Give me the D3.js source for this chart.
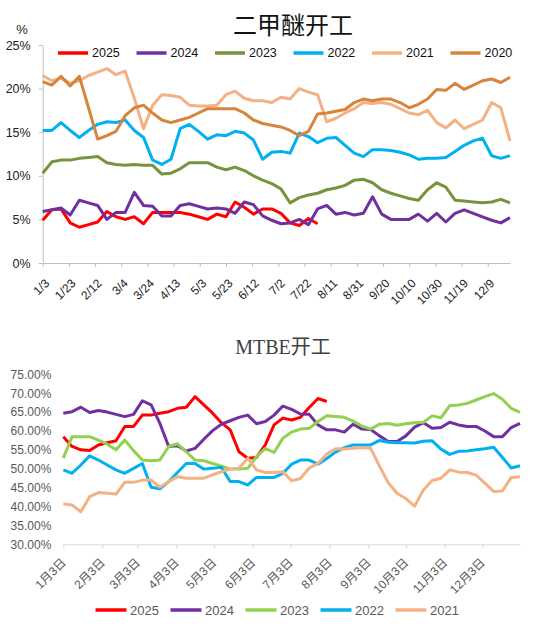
<!DOCTYPE html>
<html>
<head>
<meta charset="utf-8">
<script src="https://cdn.jsdelivr.net/npm/d3@7"></script>
<style>
  body { margin: 0; background: #fff; }
  svg { display: block; }
</style>
</head>
<body>
<svg id="chart" width="550" height="632"></svg>
<script>
// ---- data: 二甲醚开工 (%), weekly from 1/3 ----
var dmeYears = ["2025", "2024", "2023", "2022", "2021", "2020"];
var dmeTicks = ["1/3","1/23","2/12","3/4","3/24","4/13","5/3","5/23","6/12","7/2","7/22","8/11","8/31","9/20","10/10","10/30","11/19","12/9"];
var dmeYTicks = [0, 5, 10, 15, 20, 25];

var dme2025 = [4.9,6.1,6.2,4.6,4.1,4.4,4.7,5.9,5.3,5.0,5.3,4.5,5.8,5.8,5.8,5.8,5.6,5.3,5.0,5.6,5.3,7.0,6.4,5.6,6.2,6.2,5.7,4.6,4.3,5.1,4.5];
var dme2024 = [5.9,6.1,6.3,5.5,7.2,6.9,6.6,5.0,5.8,5.8,8.1,6.6,6.5,5.4,5.4,6.6,6.8,6.5,6.2,6.3,6.2,5.7,7.0,6.7,5.4,4.9,4.5,4.6,5.0,4.4,6.2,6.6,5.6,5.8,5.5,5.7,7.6,5.6,5.0,5.0,5.0,5.6,4.8,5.7,4.7,5.7,6.1,5.7,5.3,4.9,4.6,5.2];
var dme2023 = [10.3,11.6,11.8,11.8,12.0,12.1,12.2,11.5,11.3,11.2,11.3,11.2,11.2,10.2,10.3,10.8,11.5,11.5,11.5,11.0,10.7,11.0,10.6,10.0,9.5,9.1,8.5,6.9,7.5,7.8,8.0,8.4,8.6,8.9,9.5,9.6,9.2,8.4,8.0,7.7,7.4,7.2,8.4,9.2,8.7,7.2,7.1,7.0,6.9,7.0,7.3,6.9];
var dme2022 = [15.2,15.2,16.1,15.2,14.4,15.2,15.9,16.2,16.1,16.4,15.2,14.4,11.8,11.3,11.9,15.4,15.9,15.1,14.2,14.7,14.6,15.1,14.9,14.1,11.9,12.7,12.8,12.6,14.9,14.5,13.8,14.3,14.4,13.5,12.6,12.2,13.0,13.0,12.9,12.7,12.4,11.9,12.0,12.0,12.1,12.8,13.5,14.0,14.3,12.3,12.0,12.3];
var dme2021 = [21.5,20.9,21.2,20.6,20.9,21.5,21.9,22.3,21.6,22.0,18.9,15.4,18.1,19.3,19.2,19.0,18.1,18.0,18.0,18.1,19.3,19.7,18.9,18.6,18.6,18.4,19.0,18.8,20.0,19.6,19.3,16.2,16.6,17.2,17.7,18.4,18.3,18.4,18.2,17.7,17.2,17.0,17.5,16.1,15.5,16.4,15.4,15.9,16.4,18.4,17.8,14.0];
var dme2020 = [20.8,20.4,21.4,20.3,21.4,17.8,14.2,14.6,15.1,16.9,17.8,18.1,17.2,16.4,16.1,16.4,16.7,17.2,17.7,17.7,17.7,17.7,17.2,16.4,16.0,15.8,15.6,15.2,14.6,15.1,17.1,17.2,17.4,17.6,18.4,18.8,18.6,18.8,18.8,18.4,17.8,18.2,18.8,19.9,19.8,20.6,19.9,20.4,20.9,21.1,20.7,21.3];

// ---- data: MTBE开工 (%), weekly from 1月3日 ----
var mtbeYears = ["2025", "2024", "2023", "2022", "2021"];
var mtbeTicks = ["1月3日","2月3日","3月3日","4月3日","5月3日","6月3日","7月3日","8月3日","9月3日","10月3日","11月3日","12月3日"];
var mtbeYTicks = [30, 35, 40, 45, 50, 55, 60, 65, 70, 75];

var mtbe2025 = [58.5,55.9,55.0,54.8,56.3,56.9,57.4,61.2,61.2,64.2,64.2,64.7,65.1,66.0,66.3,69.1,66.9,64.7,62.2,60.3,54.5,52.8,53.0,56.3,61.6,63.4,62.9,63.6,66.2,68.6,67.8];
var mtbe2024 = [64.7,65.1,66.3,64.9,65.4,65.0,64.4,63.8,64.4,68.0,66.9,62.0,55.9,56.1,54.7,55.4,57.8,60.1,61.8,62.7,63.6,64.2,61.9,62.5,64.2,66.6,65.7,64.5,64.4,61.6,60.3,60.3,59.7,61.8,60.5,60.4,58.7,57.2,57.2,58.7,61.0,62.2,60.7,60.9,62.3,61.6,61.2,61.2,60.0,58.5,58.5,60.9,62.0];
var mtbe2023 = [52.8,58.5,58.5,58.5,57.6,56.5,55.0,57.6,54.8,52.3,52.1,52.3,55.9,56.6,54.5,52.3,52.1,51.4,50.7,49.9,49.9,50.1,53.2,55.4,54.3,58.1,59.7,60.5,60.7,62.5,64.0,63.8,63.6,62.6,61.3,60.5,61.8,62.0,61.5,61.9,62.2,62.3,64.0,63.5,66.7,66.9,67.3,68.2,69.1,69.9,68.4,66.0,64.9];
var mtbe2022 = [49.7,48.8,51.0,53.4,52.3,51.0,49.7,48.8,50.1,51.4,45.1,44.7,46.6,49.0,51.4,51.4,49.9,50.1,50.4,46.6,46.6,45.7,47.7,47.7,47.7,48.8,51.2,52.3,52.3,51.2,52.7,54.4,55.6,56.3,56.3,56.3,57.5,57.0,56.9,56.9,56.8,57.3,57.4,55.2,53.8,54.6,54.7,55.0,55.3,55.7,53.0,50.2,50.8];
var mtbe2021 = [40.7,40.4,38.6,42.6,43.7,43.5,43.3,46.4,46.4,47.0,47.0,45.1,46.6,47.9,47.5,47.5,47.5,48.4,49.2,49.9,50.1,52.8,49.7,49.0,49.0,49.2,46.8,47.4,50.2,51.4,53.9,55.3,55.2,55.4,55.6,55.4,50.7,46.3,43.5,42.1,40.1,44.4,46.9,47.5,49.7,49.1,49.0,48.3,46.2,44.0,44.1,47.7,47.9];

var dmeSeries = [dme2025, dme2024, dme2023, dme2022, dme2021, dme2020];
var mtbeSeries = [mtbe2025, mtbe2024, mtbe2023, mtbe2022, mtbe2021];

// styles
var dmeColors = ["#FF0000", "#7030A0", "#77933C", "#00B0F0", "#F4B183", "#D7843C"];
var mtbeColors = ["#FF0000", "#7030A0", "#92D050", "#00B0F0", "#F4B183"];
var latin = "'Liberation Sans', Arial, 'Noto Sans CJK SC', sans-serif";

var svg = d3.select("#chart");
var day0 = new Date(2021, 0, 3);
function weeks(n) { return d3.range(n).map(function (i) { return d3.timeDay.offset(day0, 7 * i); }); }

/* ================= 二甲醚开工 ================= */
var dmeDates = weeks(52);
var x1 = d3.scaleTime().domain([day0, dmeDates[51]]).range([42.7, 510]);
var y1 = d3.scaleLinear().domain([0, 25]).range([263, 45]);

svg.append("text").attr("x", 293).attr("y", 34)
    .attr("text-anchor", "middle")
    .style("font-family", "'Noto Sans CJK SC', sans-serif")
    .style("font-size", "24px").style("fill", "#111")
    .text("二甲醚开工");

svg.append("text").attr("x", 22).attr("y", 34)
    .attr("text-anchor", "middle")
    .style("font-family", latin).style("font-size", "13px").style("fill", "#222")
    .text("%");

var gy1 = svg.append("g").attr("transform", "translate(42.7,0)")
    .call(d3.axisLeft(y1).tickValues(dmeYTicks).tickSize(4).tickSizeOuter(0).tickPadding(8)
        .tickFormat(function (d) { return d + "%"; }));
gy1.select(".domain").attr("stroke", "#BFBFBF");
gy1.selectAll(".tick line").attr("stroke", "#BFBFBF");
gy1.selectAll("text").style("font-family", latin).style("font-size", "12.5px").style("fill", "#222");

var dmeTickDates = dmeTicks.map(function (t, i) { return d3.timeDay.offset(day0, 20 * i); });
var gx1 = svg.append("g").attr("transform", "translate(0," + y1(0) + ")")
    .call(d3.axisBottom(x1).tickValues(dmeTickDates).tickSize(4).tickSizeOuter(0)
        .tickFormat(function (d, i) { return dmeTicks[i]; }));
gx1.select(".domain").attr("stroke", "#BFBFBF");
gx1.selectAll(".tick line").attr("stroke", "#BFBFBF");
gx1.selectAll("text")
    .attr("x", 0).attr("y", 0).attr("dy", "0.35em")
    .attr("text-anchor", "end")
    .attr("transform", "translate(4,18) rotate(-45)")
    .style("font-family", latin).style("font-size", "12px").style("fill", "#222");

var line1 = d3.line()
    .x(function (d, i) { return x1(dmeDates[i]); })
    .y(function (d) { return y1(d); });

dmeSeries.forEach(function (s, k) {
    svg.append("path").datum(s)
        .attr("d", line1)
        .attr("fill", "none")
        .attr("stroke", dmeColors[k])
        .attr("stroke-width", 3)
        .attr("stroke-linejoin", "round");
});

// legend
var lg1 = svg.append("g");
dmeYears.forEach(function (yr, k) {
    var lx = 58 + k * 78.5;
    lg1.append("line").attr("x1", lx).attr("x2", lx + 30).attr("y1", 53).attr("y2", 53)
        .attr("stroke", dmeColors[k]).attr("stroke-width", 3.5);
    lg1.append("text").attr("x", lx + 34).attr("y", 53).attr("dy", "0.35em")
        .style("font-family", latin).style("font-size", "12.5px").style("fill", "#111")
        .text(yr);
});

/* ================= MTBE开工 ================= */
var mtbeDates = weeks(53);
var x2 = d3.scaleTime().domain([day0, mtbeDates[52]]).range([63.3, 520]);
var y2 = d3.scaleLinear().domain([30, 75]).range([544.3, 374.3]);

svg.append("text").attr("x", 283).attr("y", 354)
    .attr("text-anchor", "middle")
    .style("font-family", "'Liberation Serif', 'Noto Sans CJK SC', serif")
    .style("font-size", "20px").style("fill", "#404040")
    .text("MTBE开工");

var gy2 = svg.append("g").attr("transform", "translate(63.3,0)")
    .call(d3.axisLeft(y2).tickValues(mtbeYTicks).tickSize(0).tickPadding(12)
        .tickFormat(function (d) { return d.toFixed(2) + "%"; }));
gy2.select(".domain").remove();
gy2.selectAll("text").style("font-family", latin).style("font-size", "12px").style("fill", "#595959");

var mtbeTickDates = mtbeTicks.map(function (t, i) { return new Date(2021, i, 3); });
var gx2 = svg.append("g").attr("transform", "translate(0," + y2(30) + ")")
    .call(d3.axisBottom(x2).tickValues(mtbeTickDates).tickSize(4).tickSizeOuter(0)
        .tickFormat(function (d, i) { return mtbeTicks[i]; }));
gx2.select(".domain").attr("stroke", "#D9D9D9");
gx2.selectAll(".tick line").attr("stroke", "#D9D9D9");
gx2.selectAll("text")
    .attr("x", 0).attr("y", 0).attr("dy", "0.35em")
    .attr("text-anchor", "end")
    .attr("transform", "translate(0,16) rotate(-45)")
    .style("font-family", latin).style("font-size", "12px").style("fill", "#595959");

var line2 = d3.line()
    .x(function (d, i) { return x2(mtbeDates[i]); })
    .y(function (d) { return y2(d); });

mtbeSeries.forEach(function (s, k) {
    svg.append("path").datum(s)
        .attr("d", line2)
        .attr("fill", "none")
        .attr("stroke", mtbeColors[k])
        .attr("stroke-width", 3)
        .attr("stroke-linejoin", "round");
});

var lg2 = svg.append("g");
mtbeYears.forEach(function (yr, k) {
    var lx = 95.5 + k * 75;
    lg2.append("line").attr("x1", lx).attr("x2", lx + 31).attr("y1", 610).attr("y2", 610)
        .attr("stroke", mtbeColors[k]).attr("stroke-width", 3.5);
    lg2.append("text").attr("x", lx + 34.5).attr("y", 610).attr("dy", "0.35em")
        .style("font-family", latin).style("font-size", "13px").style("fill", "#595959")
        .text(yr);
});
</script>
</body>
</html>
